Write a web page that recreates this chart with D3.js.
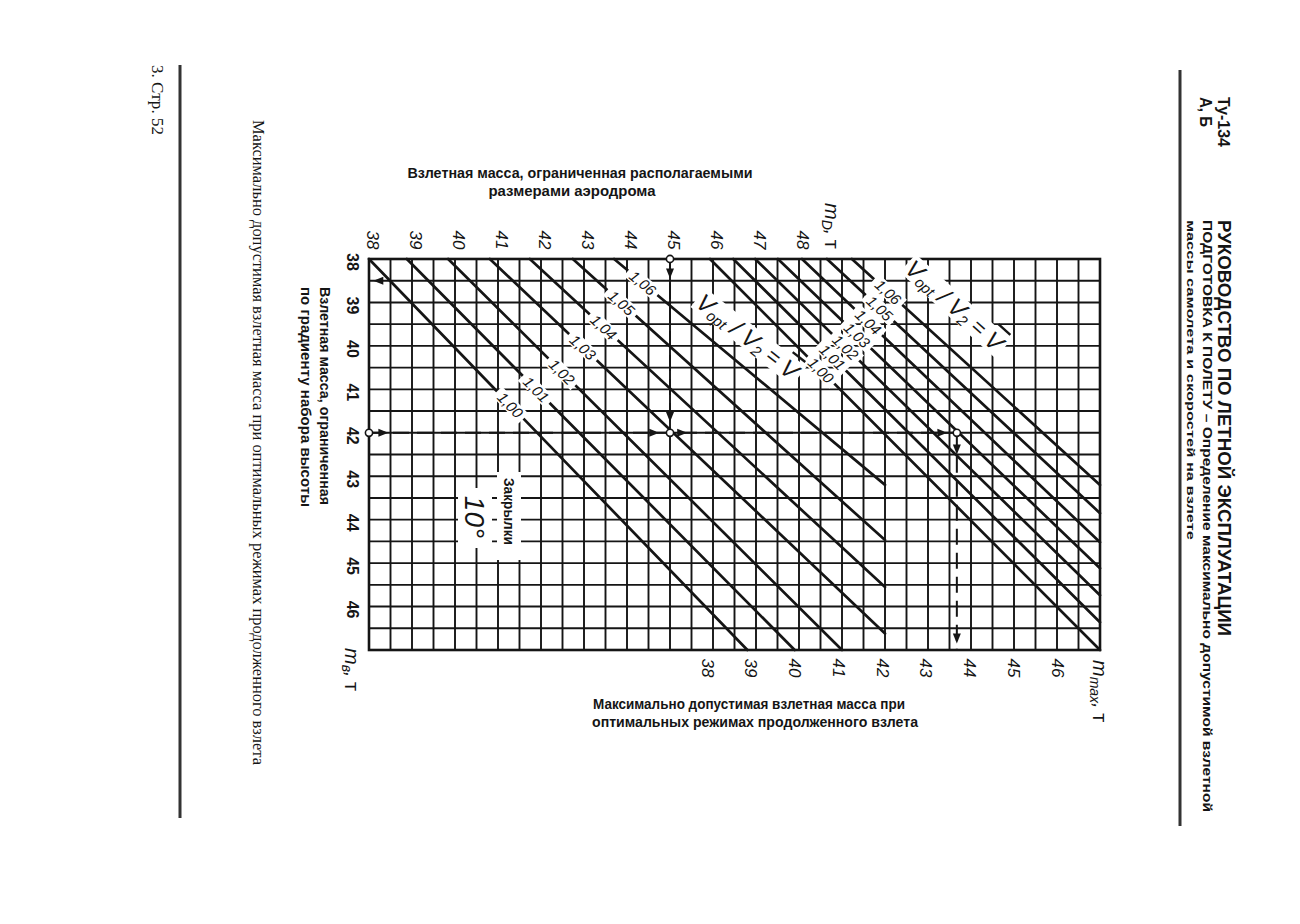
<!DOCTYPE html>
<html><head><meta charset="utf-8">
<script src="https://cdn.jsdelivr.net/npm/d3@7"></script>
<style>body{margin:0;background:#fff}svg{display:block}</style>
</head><body>
<svg id="c" width="1300" height="924"></svg>
<script>
// ---------------- data ----------------
const mDTicks   = [38,39,40,41,42,43,44,45,46,47,48];      // top axis, m_D, t
const mVTicks   = [38,39,40,41,42,43,44,45,46];            // left axis, m_в, t
const mMaxTicks = [38,39,40,41,42,43,44,45,46];            // bottom axis, m_max, t
const ratioLabels = ["1,00","1,01","1,02","1,03","1,04","1,05","1,06"];

// left family of V_opt/V2 lines (start on top edge m_в=38, end point)
const leftStartMD = [38.00,38.88,39.84,40.81,41.74,42.74,43.70];
const leftEndMD   = [46.80,47.90,49.00,50.00,50.00,50.00,50.00];
const leftEndMV   = [47.00,47.00,47.00,46.62,45.55,44.47,43.20];
const leftLabelMV = [41.36,41.00,40.60,40.03,39.57,39.01,38.55];

// right family of V_opt/V2 lines
const rightStartMD = [45.93,46.47,46.98,47.51,48.07,48.65,49.23];
const rightEndMD   = [55,55,55,55,55,55,55];
const rightEndMV   = [47.00,46.36,45.74,45.12,44.52,43.85,43.20];
const rightLabelMV = [40.56,40.26,40.03,39.75,39.45,39.13,38.76];

// worked example
const exampleMD = 45, exampleMV = 42, exampleMMax = 43.73;

// ---------------- scales ----------------
const svg = d3.select("#c");
const x = d3.scaleLinear().domain([38,55]).range([369,1100]);
const y = d3.scaleLinear().domain([38,47]).range([259,650]);
const xMax = d3.scaleLinear().domain([38,47]).range([706,1100]);
const INK = "#151515";

// ---------------- page furniture ----------------
svg.append("rect").attr("width",1300).attr("height",924).attr("fill","#fff");
svg.append("line").attr("x1",180).attr("x2",180).attr("y1",65).attr("y2",818)
  .attr("stroke","#333").attr("stroke-width",3);
svg.append("line").attr("x1",1180).attr("x2",1180).attr("y1",70).attr("y2",826)
  .attr("stroke","#333").attr("stroke-width",3);

function vtext(px,py,str,o){
  const t = svg.append("text")
    .attr("transform",`translate(${px},${py}) rotate(90)`)
    .attr("text-anchor",o.anchor||"start")
    .attr("dominant-baseline","central")
    .attr("font-family",o.family||"'Liberation Sans Narrow','Liberation Sans',Arial,sans-serif")
    .attr("font-size",o.size||14)
    .attr("font-weight",o.weight||"normal")
    .attr("font-style",o.style||"normal")
    .attr("fill",INK)
    .text(str);
  if(o.len){ t.attr("textLength",o.len).attr("lengthAdjust","spacingAndGlyphs"); }
  return t;
}
function htext(px,py,str,o){
  const t = svg.append("text").attr("x",px).attr("y",py)
    .attr("text-anchor",o.anchor||"middle")
    .attr("dominant-baseline","central")
    .attr("font-family",o.family||"'Liberation Sans Narrow','Liberation Sans',Arial,sans-serif")
    .attr("font-size",o.size||14)
    .attr("font-weight",o.weight||"normal")
    .attr("fill",INK).text(str);
  if(o.len){ t.attr("textLength",o.len).attr("lengthAdjust","spacingAndGlyphs"); }
  return t;
}

// header (rotated)
vtext(1223,97,"Ту-134",{size:16,weight:"bold",len:50});
vtext(1205,97,"А, Б",{size:16,weight:"bold",len:30});
vtext(1224,220,"РУКОВОДСТВО ПО ЛЕТНОЙ ЭКСПЛУАТАЦИИ",{size:18,weight:"bold",len:416});
vtext(1207,220,"ПОДГОТОВКА К ПОЛЕТУ – Определение максимально допустимой взлетной",{size:13,weight:"bold",len:592});
vtext(1191,220,"массы самолета и скоростей на взлете",{size:11.5,weight:"bold",len:320});
// left margin texts
vtext(258,120,"Максимально допустимая взлетная масса при оптимальных режимах продолженного взлета",
  {size:16,family:"'Liberation Serif','Times New Roman',serif",len:645});
vtext(157,65,"3. Стр. 52",{size:17,family:"'Liberation Serif','Times New Roman',serif",len:70});

// ---------------- grid ----------------
const g = svg.append("g");
g.selectAll("line.v").data(d3.range(38,55.001,0.5)).join("line")
  .attr("x1",d=>x(d)).attr("x2",d=>x(d)).attr("y1",y(38)).attr("y2",y(47))
  .attr("stroke",INK).attr("stroke-width",1.9);
g.selectAll("line.h").data(d3.range(38,47.001,0.5)).join("line")
  .attr("x1",x(38)).attr("x2",x(55)).attr("y1",d=>y(d)).attr("y2",d=>y(d))
  .attr("stroke",INK).attr("stroke-width",1.9);
g.append("rect").attr("x",x(38)).attr("y",y(38)).attr("width",x(55)-x(38)).attr("height",y(47)-y(38))
  .attr("fill","none").attr("stroke",INK).attr("stroke-width",2.6);

// "Закрылки 10°" box
svg.append("rect").attr("x",497).attr("y",472).attr("width",24).attr("height",88).attr("fill","#fff");
svg.append("rect").attr("x",458).attr("y",488).attr("width",34).attr("height",60).attr("fill","#fff");
vtext(509,478,"Закрылки",{size:14,weight:"bold",len:67});
vtext(474,517,"10°",{size:28,style:"italic",family:"'Liberation Sans',Arial,sans-serif",anchor:"middle"});

// ---------------- diagonal families ----------------
function family(starts,endsMD,endsMV,labelMV){
  const lines = starts.map((s,i)=>({s,emd:endsMD[i],emv:endsMV[i],lab:ratioLabels[i],lmv:labelMV[i]}));
  svg.append("g").selectAll("line").data(lines).join("line")
    .attr("x1",d=>x(d.s)).attr("y1",y(38)).attr("x2",d=>x(d.emd)).attr("y2",d=>y(d.emv))
    .attr("stroke",INK).attr("stroke-width",2.7).attr("stroke-linecap","round");
  const lg = svg.append("g").selectAll("g").data(lines).join("g")
    .attr("transform",d=>{
      const t=(d.lmv-38)/(d.emv-38), md=d.s+t*(d.emd-d.s);
      const ang=Math.atan2(y(d.emv)-y(38), x(d.emd)-x(d.s))*180/Math.PI;
      return `translate(${x(md)},${y(d.lmv)}) rotate(${ang})`;
    });
  lg.append("rect").attr("x",-19).attr("y",-7).attr("width",38).attr("height",14).attr("fill","#fff");
  lg.append("text").attr("text-anchor","middle").attr("dominant-baseline","central")
    .attr("font-family","'Liberation Sans',Arial,sans-serif").attr("font-style","italic")
    .attr("font-size",15).attr("fill",INK).text(d=>d.lab);
}
family(leftStartMD,leftEndMD,leftEndMV,leftLabelMV);
family(rightStartMD,rightEndMD,rightEndMV,rightLabelMV);

// V_opt / V2 = V̄ labels
function vLabel(cx,cy,ang){
  const gg = svg.append("g").attr("transform",`translate(${cx},${cy}) rotate(${ang})`);
  const bg = gg.append("rect").attr("fill","#fff");
  const t = gg.append("text").attr("text-anchor","middle").attr("dominant-baseline","central")
    .attr("font-family","'Liberation Sans',Arial,sans-serif").attr("font-style","italic").attr("fill",INK);
  t.append("tspan").attr("font-size",24).text("V");
  t.append("tspan").attr("font-size",15).attr("dy",6).text("opt");
  t.append("tspan").attr("font-size",24).attr("dy",-6).text(" / V");
  t.append("tspan").attr("font-size",15).attr("dy",6).text("2");
  t.append("tspan").attr("font-size",22).attr("dy",-6).text(" = ");
  t.append("tspan").attr("font-size",24).attr("text-decoration","overline").text("V");
  const b = t.node().getBBox();
  bg.attr("x",b.x-2).attr("y",b.y+2).attr("width",b.width+4).attr("height",b.height-4);
}
vLabel(748,336,38);
vLabel(955,305,42);

// ---------------- worked example (dashed path) ----------------
const dash = svg.append("g").attr("stroke",INK).attr("stroke-width",2).attr("stroke-dasharray","16,8").attr("fill","none");
dash.append("line").attr("x1",x(exampleMD)).attr("x2",x(exampleMD)).attr("y1",y(38)).attr("y2",y(exampleMV));
dash.append("line").attr("x1",x(38)).attr("x2",xMax(exampleMMax)).attr("y1",y(exampleMV)).attr("y2",y(exampleMV));
dash.append("line").attr("x1",xMax(exampleMMax)).attr("x2",xMax(exampleMMax)).attr("y1",y(exampleMV)).attr("y2",y(47));

function arrow(px,py,dir){
  const L=10,W=4;
  let p;
  if(dir==="down") p=`M${px},${py} L${px-W},${py-L} L${px+W},${py-L} Z`;
  else if(dir==="right") p=`M${px},${py} L${px-L},${py-W} L${px-L},${py+W} Z`;
  else p=`M${px},${py} L${px+L},${py-W} L${px+L},${py+W} Z`;
  svg.append("path").attr("d",p).attr("fill",INK);
}
arrow(x(exampleMD),y(38.45),"down");
arrow(x(exampleMD),y(41.75),"down");
arrow(x(38.45),y(exampleMV),"right");
arrow(x(44.75),y(exampleMV),"right");
arrow(x(45.4),y(exampleMV),"right");
arrow(x(51.45),y(exampleMV),"right");
arrow(xMax(exampleMMax),y(42.5),"down");
arrow(xMax(exampleMMax),y(46.85),"down");
arrow(x(38.1),y(38.5),"left");

[[x(exampleMD),y(38)],[x(38),y(exampleMV)],[x(exampleMD),y(exampleMV)],[xMax(exampleMMax),y(exampleMV)]]
 .forEach(([cx,cy])=>svg.append("circle").attr("cx",cx).attr("cy",cy).attr("r",3.6)
   .attr("fill","#fff").attr("stroke",INK).attr("stroke-width",1.6));

// ---------------- axes labels ----------------
const numFont = "'Liberation Sans',Arial,sans-serif";
mDTicks.forEach(v=>vtext(x(v)+3,240,String(v),{size:17,style:"italic",family:numFont,anchor:"middle"}));
mVTicks.forEach(v=>vtext(352,y(v)+3,String(v),{size:16,weight:"bold",family:numFont,anchor:"middle"}));
mMaxTicks.forEach(v=>vtext(xMax(v)+1,668,String(v),{size:17,style:"italic",family:numFont,anchor:"middle"}));

function unitLabel(px,py,sub){
  const t = svg.append("text").attr("transform",`translate(${px},${py}) rotate(90)`)
    .attr("dominant-baseline","central").attr("font-family",numFont).attr("font-style","italic")
    .attr("font-size",20).attr("fill",INK);
  t.append("tspan").text("m");
  t.append("tspan").attr("font-size",14).attr("dy",5).text(sub);
  t.append("tspan").attr("dy",-5).attr("font-size",18).text(", ");
  t.append("tspan").attr("font-size",20).attr("font-style","normal").text("т");
}
unitLabel(832,203,"D");
unitLabel(352,648,"в");
unitLabel(1100,660,"max");

// titles
htext(580,172,"Взлетная масса, ограниченная располагаемыми",{size:15,weight:"bold",len:345});
htext(572,190,"размерами  аэродрома",{size:15,weight:"bold",len:167});
htext(749,703,"Максимально допустимая взлетная масса при",{size:15,weight:"bold",len:312});
htext(755,721,"оптимальных режимах продолженного взлета",{size:15,weight:"bold",len:326});
vtext(325,287,"Взлетная масса, ограниченная",{size:15,weight:"bold",len:218});
vtext(306,287,"по градиенту набора высоты",{size:15,weight:"bold",len:220});
</script>
</body></html>
